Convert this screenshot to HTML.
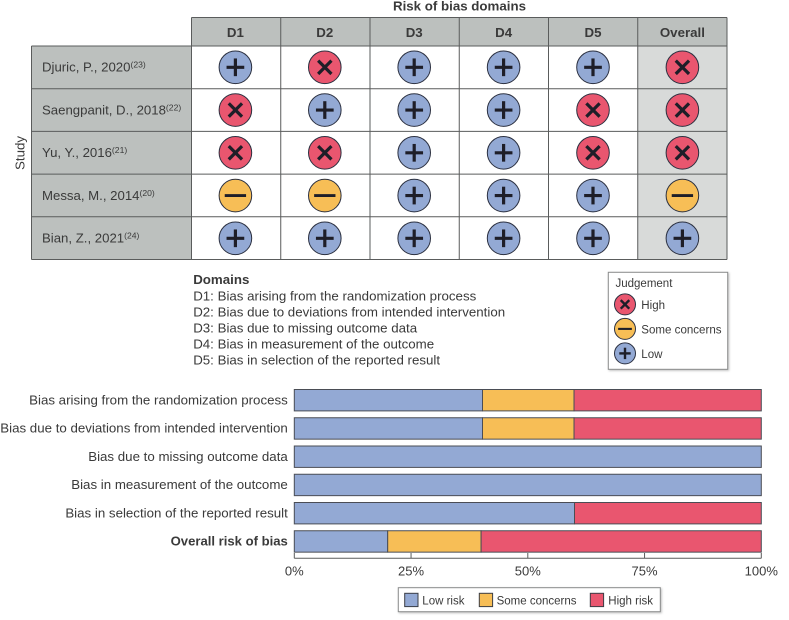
<!DOCTYPE html>
<html lang="en">
<head>
<meta charset="utf-8">
<title>Risk of bias summary</title>
<style>
html,body{margin:0;padding:0;background:#fff;}
body{width:789px;height:620px;overflow:hidden;}
svg{display:block;font-family:"Liberation Sans",Arial,sans-serif;}
text{fill:#3a3a3a;}
</style>
</head>
<body>
<svg id="figure" xmlns="http://www.w3.org/2000/svg" width="789" height="620" viewBox="0 0 789 620"></svg>
<script>
// Traffic-light plot data
const studies = ["Djuric, P., 2020", "Saengpanit, D., 2018", "Yu, Y., 2016", "Messa, M., 2014", "Bian, Z., 2021"];
const studyRefs = ["(23)", "(22)", "(21)", "(20)", "(24)"];
const domainHeaders = ["D1", "D2", "D3", "D4", "D5", "Overall"];
const judgementDjuric = ["low", "high", "low", "low", "low", "high"];
const judgementSaengpanit = ["high", "low", "low", "low", "high", "high"];
const judgementYu = ["high", "high", "low", "low", "high", "high"];
const judgementMessa = ["some", "some", "low", "low", "low", "some"];
const judgementBian = ["low", "low", "low", "low", "low", "low"];
const judgements = [judgementDjuric, judgementSaengpanit, judgementYu, judgementMessa, judgementBian];

// Domain key
const domainKey = [
  "D1: Bias arising from the randomization process",
  "D2: Bias due to deviations from intended intervention",
  "D3: Bias due to missing outcome data",
  "D4: Bias in measurement of the outcome",
  "D5: Bias in selection of the reported result"
];

// Summary bar chart data (percent of studies)
const barCategories = [
  "Bias arising from the randomization process",
  "Bias due to deviations from intended intervention",
  "Bias due to missing outcome data",
  "Bias in measurement of the outcome",
  "Bias in selection of the reported result",
  "Overall risk of bias"
];
const lowRisk = [40.3, 40.3, 100, 100, 60, 20];
const someConcerns = [19.6, 19.6, 0, 0, 0, 20];
const highRisk = [40.1, 40.1, 0, 0, 40, 60];
const tickValues = [0, 25, 50, 75, 100];
const tickLabels = ["0%", "25%", "50%", "75%", "100%"];

const BLUE = "#93a9d4", YELLOW = "#f7be56", RED = "#e9566f", DARK = "#1e1e28", LINE = "#5a5c5c";
const GREY = "#bcc0be", PALE = "#d8dad9";
const fills = {low: BLUE, some: YELLOW, high: RED};
const NS = "http://www.w3.org/2000/svg";
const svg = document.getElementById("figure");

function make(tag, attrs, parent) {
  const el = document.createElementNS(NS, tag);
  for (const k in attrs) el.setAttribute(k, attrs[k]);
  (parent || svg).appendChild(el);
  return el;
}

// Axis functions
const colEdge = i => 191.5 + 89.25 * i;
const colCentre = i => 235.4 + 89.4 * i;
const rowEdge = j => 46 + 42.7 * j;
const rowCentre = j => 67.3 + 42.75 * j;
const xPct = v => 294.3 + v * 4.67;
const barTop = j => 389.5 + 28.25 * j;
const BAR_H = 21.4;

function glyph(group, kind, cx, cy, s) {
  const segs = kind === "low"
    ? [[-8.8, 0, 8.8, 0], [0, -8.8, 0, 8.8]]
    : kind === "high"
      ? [[-6.6, -6.6, 6.6, 6.6], [-6.6, 6.6, 6.6, -6.6]]
      : [[-10.6, 0, 10.6, 0]];
  segs.forEach(p => {
    const l = make("line", {x1: cx + p[0] * s, y1: cy + p[1] * s, x2: cx + p[2] * s, y2: cy + p[3] * s,
      stroke: DARK, "stroke-width": (kind === "some" ? 2.8 : 3.2) * (s < 1 ? 0.75 : 1)}, group);
    
    
  });
}

function marker(kind, cx, cy, r, name) {
  const g = make("g", {});
  
  
  const c = make("circle", {cx: cx, cy: cy, r: r, fill: fills[kind], stroke: "#2b3040", "stroke-width": 1}, g);
  
  
  glyph(g, kind, cx, cy, r / 16.2);
  return g;
}

// ---------- Traffic-light table ----------
const title = make("text", {x: 459.5, y: 10.5, "text-anchor": "middle", "font-size": 13.3, "font-weight": 700});
title.textContent = "Risk of bias domains";



const studyAxis = make("text", {x: 0, y: 0, "text-anchor": "middle", "font-size": 13.3, transform: "translate(24.5 153) rotate(-90)"});
studyAxis.textContent = "Study";



const headerBg = make("rect", {x: colEdge(0), y: 17.5, width: colEdge(6) - colEdge(0), height: 28.5, fill: GREY});



const studyBg = make("rect", {x: 31.5, y: rowEdge(0), width: 160, height: rowEdge(5) - rowEdge(0), fill: GREY});



const overallBg = make("rect", {x: colEdge(5), y: rowEdge(0), width: colEdge(6) - colEdge(5), height: rowEdge(5) - rowEdge(0), fill: PALE});



domainHeaders.forEach((h, i) => {
  const t = make("text", {x: colCentre(i), y: 37, "text-anchor": "middle", "font-size": 13.3, "font-weight": 700});
  t.textContent = h;
  
  
});

for (let j = 0; j <= 5; j++) {
  const l = make("line", {x1: 31.5, x2: colEdge(6), y1: rowEdge(j), y2: rowEdge(j), stroke: LINE, "stroke-width": 1});
  
  
}
const headTop = make("line", {x1: colEdge(0), x2: colEdge(6), y1: 17.5, y2: 17.5, stroke: LINE, "stroke-width": 1});



const leftEdge = make("line", {x1: 31.5, x2: 31.5, y1: rowEdge(0), y2: rowEdge(5), stroke: LINE, "stroke-width": 1});



for (let i = 0; i <= 6; i++) {
  const l = make("line", {x1: colEdge(i), x2: colEdge(i), y1: 17.5, y2: rowEdge(5), stroke: LINE, "stroke-width": 1});
  
  
}

studies.forEach((s, j) => {
  const t = make("text", {x: 42, y: rowCentre(j) + 4.2, "font-size": 13.2});
  
  
  const a = make("tspan", {}, t);
  a.textContent = s;
  const b = make("tspan", {dy: -4, "font-size": 8.6}, t);
  b.textContent = studyRefs[j];
  judgements[j].forEach((k, i) => {
    marker(k, colCentre(i), rowCentre(j), 16.3, 'judgement-marker');
  });
});

// ---------- Domain key ----------
const keyHead = make("text", {x: 193.2, y: 284.2, "font-size": 13.3, "font-weight": 700});
keyHead.textContent = "Domains";



domainKey.forEach((d, i) => {
  const t = make("text", {x: 193.2, y: 300.7 + 16 * i, "font-size": 13.3});
  t.textContent = d;
  
  
});

// ---------- Judgement legend ----------
const jBox = make("rect", {x: 608.3, y: 272.3, width: 119.4, height: 97, fill: "#fff", stroke: "#8a8c8c", "stroke-width": 1, style: "filter:drop-shadow(1px 1.5px 1px rgba(0,0,0,.25))"});



const jTitle = make("text", {x: 615.5, y: 287, "font-size": 11.5});
jTitle.textContent = "Judgement";



const jKinds = ["high", "some", "low"];
const jLabels = ["High", "Some concerns", "Low"];
const jBaselineGap = 4.4;
jKinds.forEach((k, i) => {
  const cy = 304.4 + 24.5 * i;
  marker(k, 625, cy, 10.5, 'judgement-legend-marker');
  const t = make("text", {x: 641.3, y: cy + jBaselineGap, "font-size": 11.55});
  t.textContent = jLabels[i];
  
  
});

// ---------- Summary bars ----------
function segment(start, value, fill, name, j) {
  if (value <= 0) return;
  const r = make("rect", {x: xPct(start), y: barTop(j), width: xPct(start + value) - xPct(start), height: BAR_H, fill: fill, stroke: "#4a4d55", "stroke-width": 1});
  
  
}

barCategories.forEach((c, j) => {
  const t = make("text", {x: 287.8, y: barTop(j) + 14.8, "text-anchor": "end", "font-size": j === 5 ? 13.1 : 13.3, "font-weight": j === 5 ? 700 : 400});
  t.textContent = c;
  
  
  segment(0, lowRisk[j], BLUE, 'bar-low-risk', j);
  segment(lowRisk[j], someConcerns[j], YELLOW, 'bar-some-concerns', j);
  segment(lowRisk[j] + someConcerns[j], highRisk[j], RED, 'bar-high-risk', j);
});

const xAxis = make("line", {x1: xPct(0), x2: xPct(100), y1: 558.3, y2: 558.3, stroke: LINE, "stroke-width": 1});



tickValues.forEach((v, i) => {
  const l = make("line", {x1: xPct(v), x2: xPct(v), y1: 553, y2: 558.3, stroke: LINE, "stroke-width": 1});
  
  
  const t = make("text", {x: xPct(v), y: 575.5, "text-anchor": "middle", "font-size": 13});
  t.textContent = tickLabels[i];
  
  
});

// ---------- Bar legend ----------
const bBox = make("rect", {x: 398.3, y: 587.7, width: 262, height: 24, fill: "#fff", stroke: "#8a8c8c", "stroke-width": 1, style: "filter:drop-shadow(1px 1.5px 1px rgba(0,0,0,.25))"});



const bLabels = ["Low risk", "Some concerns", "High risk"];
const bSwatchX = [404.7, 479.3, 590.3];
const bTextX = [422.3, 496.6, 608.3];
const bFills = [BLUE, YELLOW, RED];
bLabels.forEach((lab, i) => {
  const r = make("rect", {x: bSwatchX[i], y: 593.3, width: 13.3, height: 13.3, fill: bFills[i], stroke: "#3a3d45", "stroke-width": 1});
  
  
  const t = make("text", {x: bTextX[i], y: 604.5, "font-size": 11.5});
  t.textContent = lab;
  
  
});
</script>
</body>
</html>
